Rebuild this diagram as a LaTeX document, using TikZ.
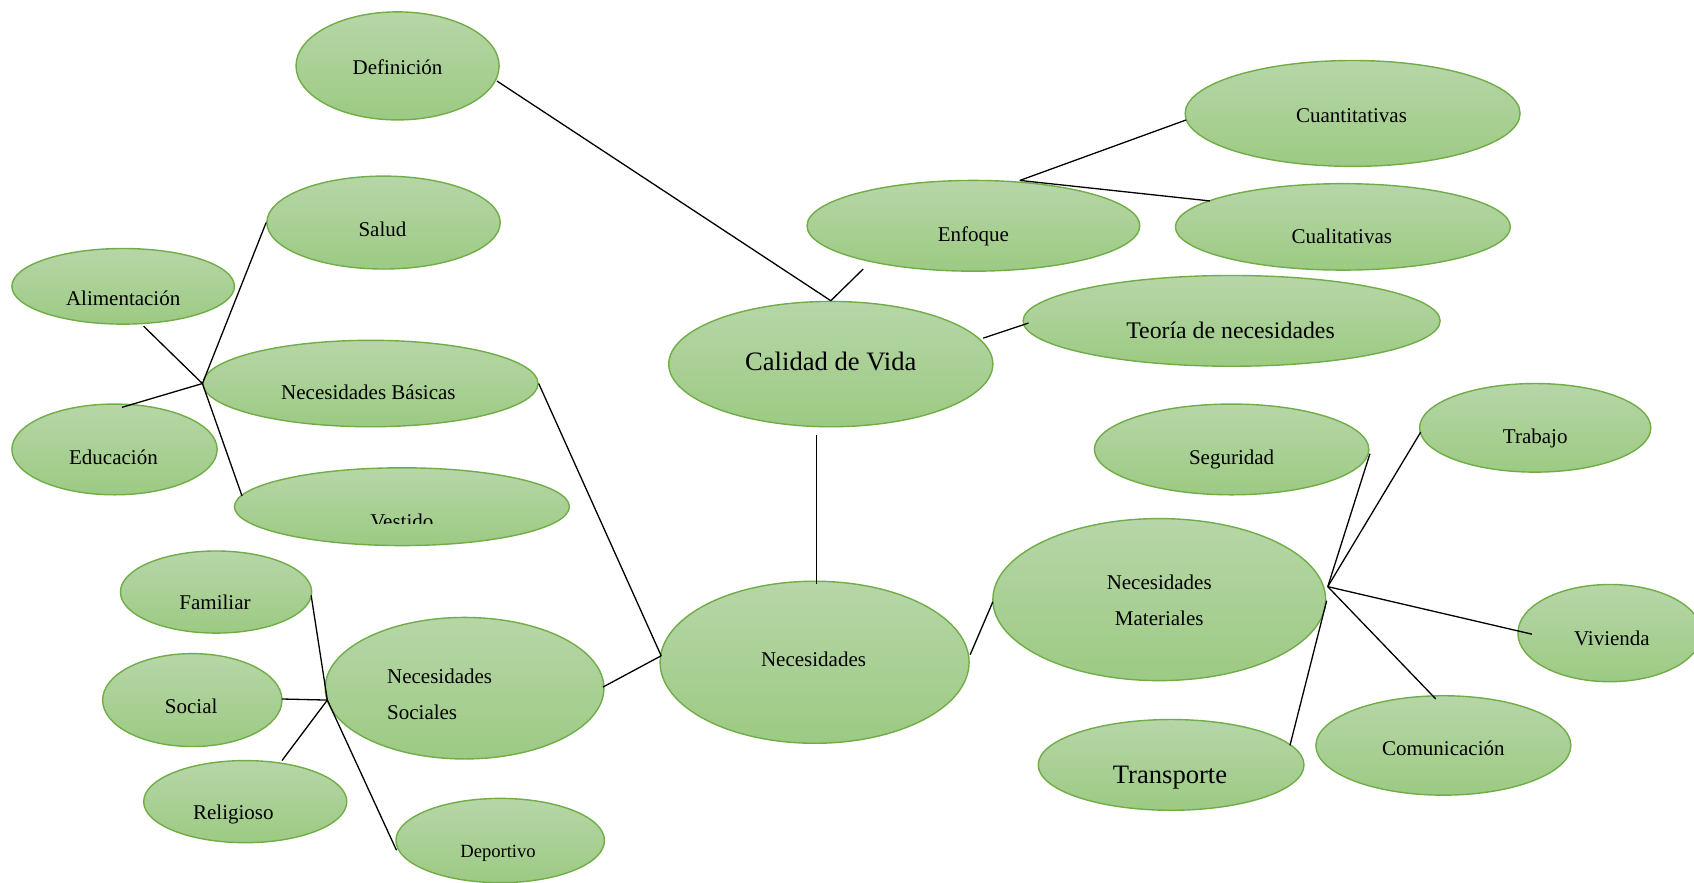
\documentclass[tikz,border=0pt]{standalone}
\usepackage{fontspec}
\setmainfont{Liberation Serif}
\usetikzlibrary{shapes.geometric}
\definecolor{gtop}{RGB}{183,214,168}
\definecolor{gbot}{RGB}{156,202,131}
\definecolor{gline}{RGB}{112,173,71}
\begin{document}
\begin{tikzpicture}[x=0.5402pt,y=-0.5402pt,
  el/.style 2 args={ellipse, draw=gline, line width=0.7pt, top color=gtop, bottom color=gbot,
    inner sep=0pt, minimum width=#1*0.5402pt, minimum height=#2*0.5402pt},
  txt/.style={inner sep=0pt, text height=0.68em, text depth=0pt, yshift=-1pt, font=\fontsize{10.5}{12}\selectfont},
  txtb/.style={inner sep=0pt, font=\fontsize{10.5}{12}\selectfont},
  con/.style={draw=black, line width=0.65pt}]
\useasboundingbox (0,0) rectangle (1568,817);
\fill[white] (0,0) rectangle (1568,817);

% ellipses
\node[el={188}{100}] (def) at (368,61) {};
\node[el={216}{86}] (sal) at (355,206) {};
\node[el={206}{70}] (ali) at (114,265) {};
\node[el={310}{80}] (nb) at (343,355) {};
\node[el={190}{84}] (edu) at (106,416) {};
\node[el={310}{72}] (ves) at (372,469) {};
\node[el={177}{76}] (fam) at (200,548) {};
\node[el={166}{86}] (soc) at (178,648) {};
\node[el={188}{76}] (rel) at (227,742) {};
\node[el={193}{78}] (dep) at (463,778) {};
\node[el={258}{131}] (ns) at (430,637) {};
\node[el={286}{150}] (nec) at (754,613) {};
\node[el={300}{116}] (cal) at (769,337) {};
\node[el={308}{84}] (enf) at (901,209) {};
\node[el={310}{98}] (cuan) at (1252,105) {};
\node[el={310}{80}] (cual) at (1243,210) {};
\node[el={386}{84}] (teo) at (1140,297) {};
\node[el={254}{84}] (seg) at (1140,416) {};
\node[el={214}{82}] (tra) at (1421,396) {};
\node[el={308}{150}] (nm) at (1073,555) {};
\node[el={170}{90}] (viv) at (1490,586) {};
\node[el={236}{92}] (com) at (1336,690) {};
\node[el={246}{84}] (tran) at (1084,708) {};

% texts
\node[txt] (def-t) at (368,61) {Definición};
\node[txt] (sal-t) at (354,211) {Salud};
\node[txt] (ali-t) at (114,275) {Alimentación};
\node[txt] (nb-t) at (341,362) {Necesidades Básicas};
\node[txt] (edu-t) at (105,422) {Educación};
\begin{scope}
  \clip (200,430) rectangle (540,485);
  \node[txt] (ves-t) at (372,481) {Vestido};
\end{scope}
\node[txt] (fam-t) at (199,556) {Familiar};
\node[txt] (soc-t) at (177,652) {Social};
\node[txt] (rel-t) at (216,750) {Religioso};
\node[txt, font=\fontsize{9.3}{11}\selectfont] (dep-t) at (461,786) {Deportivo};
\node[txtb, anchor=base west] (ns-t1) at (358,632.5) {Necesidades};
\node[txtb, anchor=base west] (ns-t2) at (358,666.4) {Sociales};
\node[txt] (nec-t) at (753,609) {Necesidades};
\node[txt, font=\fontsize{13.3}{15}\selectfont] (cal-t) at (769,335) {Calidad de Vida};
\node[txt] (enf-t) at (901,215) {Enfoque};
\node[txt] (cuan-t) at (1251,105) {Cuantitativas};
\node[txt] (cual-t) at (1242,217) {Cualitativas};
\node[txt, font=\fontsize{11.9}{14}\selectfont] (teo-t) at (1139,305) {Teoría de necesidades};
\node[txt] (seg-t) at (1140,422) {Seguridad};
\node[txt] (tra-t) at (1421,402) {Trabajo};
\node[txtb, anchor=base] (nm-t1) at (1073,545.5) {Necesidades};
\node[txtb, anchor=base] (nm-t2) at (1073,579.4) {Materiales};
\node[txt] (viv-t) at (1492,589) {Vivienda};
\node[txt] (com-t) at (1336,691) {Comunicación};
\node[txt, font=\fontsize{13.3}{15}\selectfont] (tran-t) at (1083,717) {Transporte};

% hubs
\coordinate (nbhub) at (nb.west);
\coordinate (nshub) at ([shift={(-127,11)}]ns.center);
\coordinate (nmhub) at ([shift={(156,-12)}]nm.center);
\coordinate (necw) at ([shift={(-142,-6)}]nec.center);
\coordinate (enftop) at ([shift={(43,-42)}]enf.center);

% connectors
\draw[con] ([shift={(92,14)}]def.center) -- (cal.north);
\draw[con] ([shift={(-102,40)}]enf.center) -- (cal.north);
\draw[con] (enftop) -- ([shift={(-154,6)}]cuan.center);
\draw[con] (enftop) -- ([shift={(-123,-24)}]cual.center);
\draw[con] ([shift={(141,-24)}]cal.center) -- ([shift={(-188,2)}]teo.center);
\draw[con] ([shift={(-13,66)}]cal.center) -- ([shift={(2,-72)}]nec.center);
\draw[con] ([shift={(144,-7)}]nec.center) -- ([shift={(-154,2)}]nm.center);
\draw[con] (nmhub) -- ([shift={(128,4)}]seg.center);
\draw[con] (nmhub) -- ([shift={(-106,4)}]tra.center);
\draw[con] (nmhub) -- ([shift={(-72,1)}]viv.center);
\draw[con] (nmhub) -- ([shift={(-7,-43)}]com.center);
\draw[con] ([shift={(110,-18)}]tran.center) -- ([shift={(155,1)}]nm.center);
\draw[con] (necw) -- (nb.east);
\draw[con] (necw) -- ([shift={(128,-1)}]ns.center);
\draw[con] (nbhub) -- (sal.west);
\draw[con] (nbhub) -- ([shift={(19,37)}]ali.center);
\draw[con] (nbhub) -- ([shift={(7,-39)}]edu.center);
\draw[con] (nbhub) -- ([shift={(-148,-10)}]ves.center);
\draw[con] (nshub) -- ([shift={(88,3)}]fam.center);
\draw[con] (nshub) -- ([shift={(83,-1)}]soc.center);
\draw[con] (nshub) -- ([shift={(34,-38)}]rel.center);
\draw[con] (nshub) -- ([shift={(-96,9)}]dep.center);
\end{tikzpicture}
\end{document}
